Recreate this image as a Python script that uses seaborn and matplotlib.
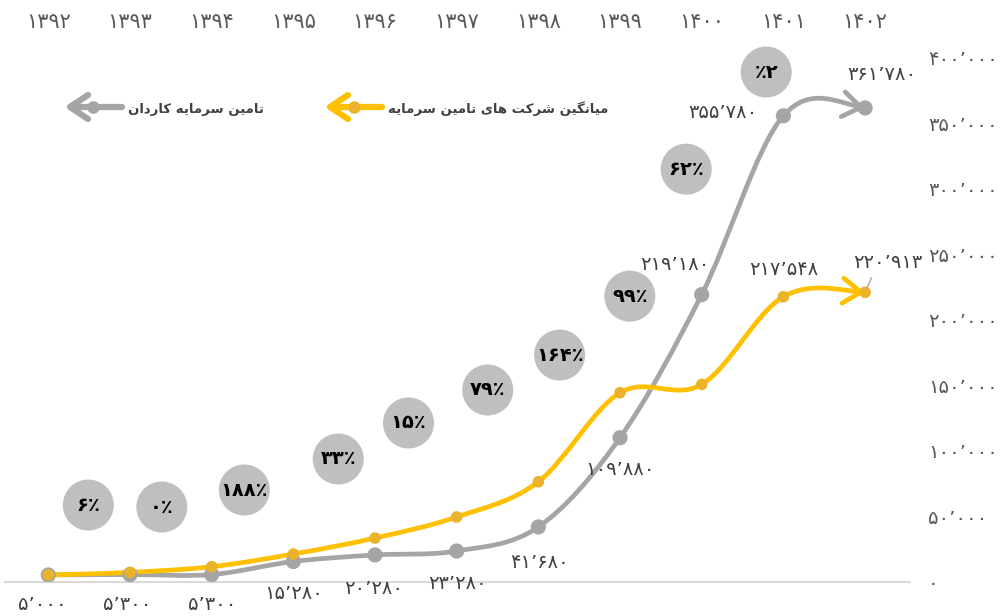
import numpy as np
import seaborn as sns
import matplotlib.pyplot as plt
from matplotlib.path import Path
from matplotlib.patches import PathPatch
from matplotlib.lines import Line2D
from matplotlib.transforms import Affine2D

# ---- data ----
years = [1392, 1393, 1394, 1395, 1396, 1397, 1398, 1399, 1400, 1401, 1402]
kardan = [5000, 5300, 5300, 15280, 20280, 23280, 41680, 109880, 219180, 355780, 361780]
average = [5000, 7000, 11300, 21000, 33200, 49300, 76200, 144200, 150600, 217548, 220913]
growth_labels = ['۶٪', '۰٪', '۱۸۸٪', '۳۳٪', '۱۵٪', '۷۹٪', '۱۶۴٪', '۹۹٪', '۶۲٪', '٪۲']
y_ticks = [0, 50000, 100000, 150000, 200000, 250000, 300000, 350000, 400000]
legend_kardan = 'تامین سرمایه کاردان'
legend_average = 'میانگین شرکت های تامین سرمایه'

# ---- layout ----
W, H = 1004, 616
growth_pos = [(0.49, 58400), (1.39, 56900), (2.40, 69900), (3.55, 93600), (4.41, 121100),
              (5.38, 146300), (6.26, 173000), (7.12, 218000), (7.81, 315000), (8.79, 389200)]
kardan_offsets = [(-6, -30), (-3, -30), (1, -30), (0, -32), (-1, -34), (1, -32), (1, -36),
                  (0, -32), (-27, 30), (-60, 3), (17, 33)]
average_offsets = {9: (0, 27), 10: (23, 30)}
GRAY, YELLOW, YELLOW_DOT = '#A5A5A5', '#FFC000', '#EBB32B'
TXT = '#404040'

FA = str.maketrans('0123456789', '۰۱۲۳۴۵۶۷۸۹')


def fa(n, sep=True):
    s = f'{n:,}' if sep else str(n)
    return s.replace(',', '\u066c').translate(FA)


# minimal arabic shaping for the legend words (matplotlib has no shaping)
FORMS = {
    'ا': ('\uFE8D', '\uFE8E', None, None),
    'د': ('\uFEA9', '\uFEAA', None, None),
    'ر': ('\uFEAD', '\uFEAE', None, None),
    'ت': ('\uFE95', '\uFE96', '\uFE97', '\uFE98'),
    'س': ('\uFEB1', '\uFEB2', '\uFEB3', '\uFEB4'),
    'ش': ('\uFEB5', '\uFEB6', '\uFEB7', '\uFEB8'),
    'م': ('\uFEE1', '\uFEE2', '\uFEE3', '\uFEE4'),
    'ن': ('\uFEE5', '\uFEE6', '\uFEE7', '\uFEE8'),
    'ه': ('\uFEE9', '\uFEEA', '\uFEEB', '\uFEEC'),
    'ی': ('\uFBFC', '\uFBFD', '\uFBFE', '\uFBFF'),
    'ک': ('\uFB8E', '\uFB8F', '\uFB90', '\uFB91'),
    'گ': ('\uFB92', '\uFB93', '\uFB94', '\uFB95'),
}


def shape(s):
    out = []
    for i, c in enumerate(s):
        if c not in FORMS:
            out.append(c)
            continue
        prev = s[i - 1] if i > 0 else None
        nxt = s[i + 1] if i + 1 < len(s) else None
        jp = prev in FORMS and FORMS[prev][2] is not None
        jn = nxt in FORMS and FORMS[c][2] is not None
        iso, fin, ini, med = FORMS[c]
        out.append(med if (jp and jn) else fin if jp else ini if jn else iso)
    return ''.join(reversed(out))


def smooth_path(xs, ys):
    P = np.column_stack([xs, ys]).astype(float)
    T = np.zeros_like(P)
    T[1:-1] = (P[2:] - P[:-2]) / 2
    # soft end tangents (between chord and "natural" end)
    T[0] = ((P[1] - P[0]) + (3 * (P[1] - P[0]) - T[1]) / 2) / 2
    T[-1] = ((P[-1] - P[-2]) + (3 * (P[-1] - P[-2]) - T[-2]) / 2) / 2
    verts, codes = [P[0]], [Path.MOVETO]
    for i in range(len(P) - 1):
        verts += [P[i] + T[i] / 3, P[i + 1] - T[i + 1] / 3, P[i + 1]]
        codes += [Path.CURVE4] * 3
    return Path(verts, codes), P, T


sns.set_theme(style='white')
plt.rcParams['font.family'] = ['DejaVu Sans']

fig = plt.figure(figsize=(W / 100, H / 100), dpi=100)
ax = fig.add_axes([5 / W, 34.5 / H, 905 / W, 523.6 / H])
idx = np.arange(len(years))

# growth bubbles
gx = [p[0] for p in growth_pos]
gy = [p[1] for p in growth_pos]
sns.scatterplot(x=gx, y=gy, s=1350, color='#BFBFBF', edgecolor='none', zorder=1,
                clip_on=False, legend=False, ax=ax)
for (x, y), lab in zip(growth_pos, growth_labels):
    ax.text(x, y, lab, ha='center', va='center', fontsize=14, fontweight='bold',
            color='black', zorder=2)

# smoothed lines with arrow ends
for vals, color, dot, s in [(kardan, GRAY, GRAY, 120), (average, YELLOW, YELLOW_DOT, 70)]:
    path, P, T = smooth_path(idx, vals)
    ax.add_patch(PathPatch(path, fill=False, edgecolor=color, lw=3.4,
                           capstyle='round', zorder=3))
    ax.annotate('', xy=P[-1], xytext=P[-1] - T[-1] * 0.03,
                arrowprops=dict(arrowstyle='->,head_length=0.65,head_width=0.45',
                                color=color, lw=3.4, shrinkA=0, shrinkB=4,
                                mutation_scale=20), zorder=3)
    sns.scatterplot(x=idx, y=vals, s=s, color=dot, edgecolor='none', zorder=4,
                    legend=False, ax=ax)

# value labels
for i, (v, off) in enumerate(zip(kardan, kardan_offsets)):
    ax.annotate(fa(v), xy=(i, v), xytext=off, textcoords='offset pixels',
                ha='center', va='center', fontsize=14, color=TXT, zorder=5)
for i, off in average_offsets.items():
    props = None
    if i == len(average) - 1:
        props = dict(arrowstyle='-', color=GRAY, lw=1, relpos=(0.3, 0),
                     shrinkA=2, shrinkB=3)
    ax.annotate(fa(average[i]), xy=(i, average[i]), xytext=off, textcoords='offset pixels',
                ha='center', va='center', fontsize=14, color=TXT, zorder=5,
                arrowprops=props)

# axes
ax.set_xlim(-0.53, 10.55)
ax.set_ylim(0, 400000)
ax.set_xticks(idx)
ax.set_xticklabels([fa(y, sep=False) for y in years], fontsize=15, color='#595959')
ax.xaxis.tick_top()
ax.tick_params(axis='x', length=0, pad=19)
ax.set_yticks(y_ticks)
ax.set_yticklabels([fa(v) for v in y_ticks], fontsize=14, color='#595959')
ax.yaxis.tick_right()
ax.tick_params(axis='y', length=0, pad=13)
for side in ['top', 'left', 'right']:
    ax.spines[side].set_visible(False)
ax.spines['bottom'].set_color('#D9D9D9')
ax.spines['bottom'].set_linewidth(1.5)
ax.grid(False)

# legend (figure pixels, measured from top)
fig_px = Affine2D().scale(1 / W, -1 / H).translate(0, 1) + fig.transFigure
for tip, end, dotx, textx, color, dot, label in [
        (70, 122, 93, 128, GRAY, GRAY, legend_kardan),
        (330, 382, 354, 388, YELLOW, YELLOW_DOT, legend_average)]:
    fig.add_artist(Line2D([end, tip + 6], [107, 107], color=color, lw=4.5,
                          solid_capstyle='round', transform=fig_px))
    fig.add_artist(Line2D([tip + 18, tip, tip + 18], [95, 107, 119], color=color, lw=4.5,
                          solid_capstyle='round', solid_joinstyle='round', transform=fig_px))
    fig.add_artist(Line2D([dotx], [107], marker='o', ms=8, color=dot, lw=0,
                          transform=fig_px))
    fig.text(textx / W, 1 - 109 / H, shape(label), ha='left', va='center',
             fontsize=9.5, fontweight='bold', color=TXT)

fig.savefig('out.png', dpi=100)
